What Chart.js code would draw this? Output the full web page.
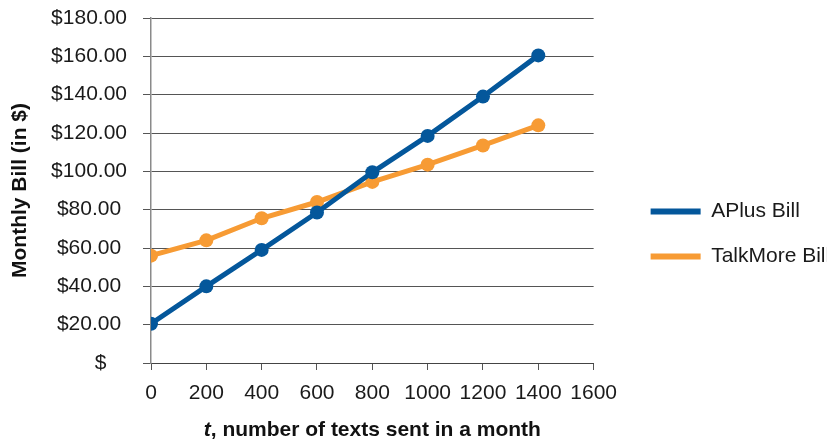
<!DOCTYPE html>
<html>
<head>
<meta charset="utf-8">
<script src="https://cdn.jsdelivr.net/npm/chart.js@4.4.1/dist/chart.umd.min.js"></script>
<style>
  html, body { margin: 0; padding: 0; background: #fff; }
</style>
</head>
<body>
<canvas id="bills" width="827" height="440"></canvas>
<script>
/* Data */
const textsSent    = [0, 200, 400, 600, 800, 1000, 1200, 1400];
const aplusBill    = [20.5, 40, 59, 78.5, 99.5, 118.5, 139, 160.5];
const talkmoreBill = [56, 64, 75.5, 84, 94.5, 103.5, 113.5, 124];
const seriesNames  = ['APlus Bill', 'TalkMore Bill'];
const yTitle = 'Monthly Bill (in $)';
const xTitleItalic = 't';
const xTitleRest = ', number of texts sent in a month';

const FONT = '"Liberation Sans", Arial, Helvetica, sans-serif';
const BLUE = '#04579b', ORANGE = '#f79b34';
Chart.defaults.font.family = FONT;
Chart.defaults.color = '#1a1a1a';

const toPoints = (xs, ys) => xs.map((x, i) => ({ x, y: ys[i] }));

// legend sits a bit away from the plot, like the original
const legendNudge = {
    id: 'legendNudge',
    afterLayout(chart) {
        const l = chart.legend;
        l.left += 33; l.right += 60;
        l.top += 5; l.bottom += 5;
    }
};

// x title with italic "t"
const xTitle = {
    id: 'xTitle',
    afterDraw(chart) {
        const ctx = chart.ctx, a = chart.chartArea;
        ctx.save();
        ctx.fillStyle = '#111';
        ctx.textBaseline = 'middle';
        ctx.textAlign = 'left';
        ctx.font = 'italic bold 21px ' + FONT;
        const w1 = ctx.measureText(xTitleItalic).width;
        ctx.font = 'bold 21px ' + FONT;
        const w2 = ctx.measureText(xTitleRest).width;
        const x = (a.left + a.right) / 2 - (w1 + w2) / 2, y = a.bottom + 67;
        ctx.font = 'italic bold 21px ' + FONT;
        ctx.fillText(xTitleItalic, x, y);
        ctx.font = 'bold 21px ' + FONT;
        ctx.fillText(xTitleRest, x + w1, y);
        ctx.restore();
    }
};

const lineSet = (label, data, color) => ({
    label, data: toPoints(textsSent, data),
    borderColor: color, backgroundColor: color,
    borderWidth: 5, pointRadius: 7, pointHoverRadius: 7,
    pointBorderWidth: 0, tension: 0
});

new Chart(document.getElementById('bills').getContext('2d'), {
    type: 'line',
    data: {
        datasets: [
            lineSet(seriesNames[0], aplusBill, BLUE),
            lineSet(seriesNames[1], talkmoreBill, ORANGE)
        ]
    },
    options: {
        responsive: false, animation: false,
        layout: { padding: { top: 18, right: 35.5, bottom: 0, left: 0 } },
        scales: {
            x: {
                type: 'linear', min: 0, max: 1600,
                ticks: { stepSize: 200, padding: 11, font: { size: 21 }, color: '#1a1a1a',
                         callback: (v) => String(v) },
                grid: { drawOnChartArea: false, drawTicks: true, tickLength: 7, tickColor: '#555' },
                border: { color: '#444', width: 1 },
                afterFit: (s) => { s.height = 77; }
            },
            y: {
                min: 0, max: 180,
                ticks: {
                    stepSize: 20, padding: 16, font: { size: 21 }, color: '#1a1a1a',
                    crossAlign: 'center',
                    callback: (v) => v === 0 ? '    $' : '$' + v.toFixed(2)
                },
                grid: { color: '#555', tickColor: '#555', tickLength: 8, lineWidth: 1 },
                border: { color: '#8a8a8a', width: 1.5 },
                title: { display: true, text: yTitle, font: { size: 21, weight: 'bold' }, color: '#111', padding: { top: 8, bottom: 8 } },
                afterFit: (s) => { s.width = 151; s.paddingTop = 0; s.paddingBottom = 0; }
            }
        },
        plugins: {
            legend: {
                position: 'right',
                labels: {
                    boxWidth: 50, boxHeight: 6, padding: 24,
                    font: { size: 21 }, color: '#1a1a1a',
                    generateLabels: (chart) => Chart.defaults.plugins.legend.labels.generateLabels(chart)
                        .map(it => Object.assign(it, { lineWidth: 0, fillStyle: it.strokeStyle }))
                }
            },
            tooltip: { enabled: false }
        }
    },
    plugins: [legendNudge, xTitle]
});
</script>
</body>
</html>
